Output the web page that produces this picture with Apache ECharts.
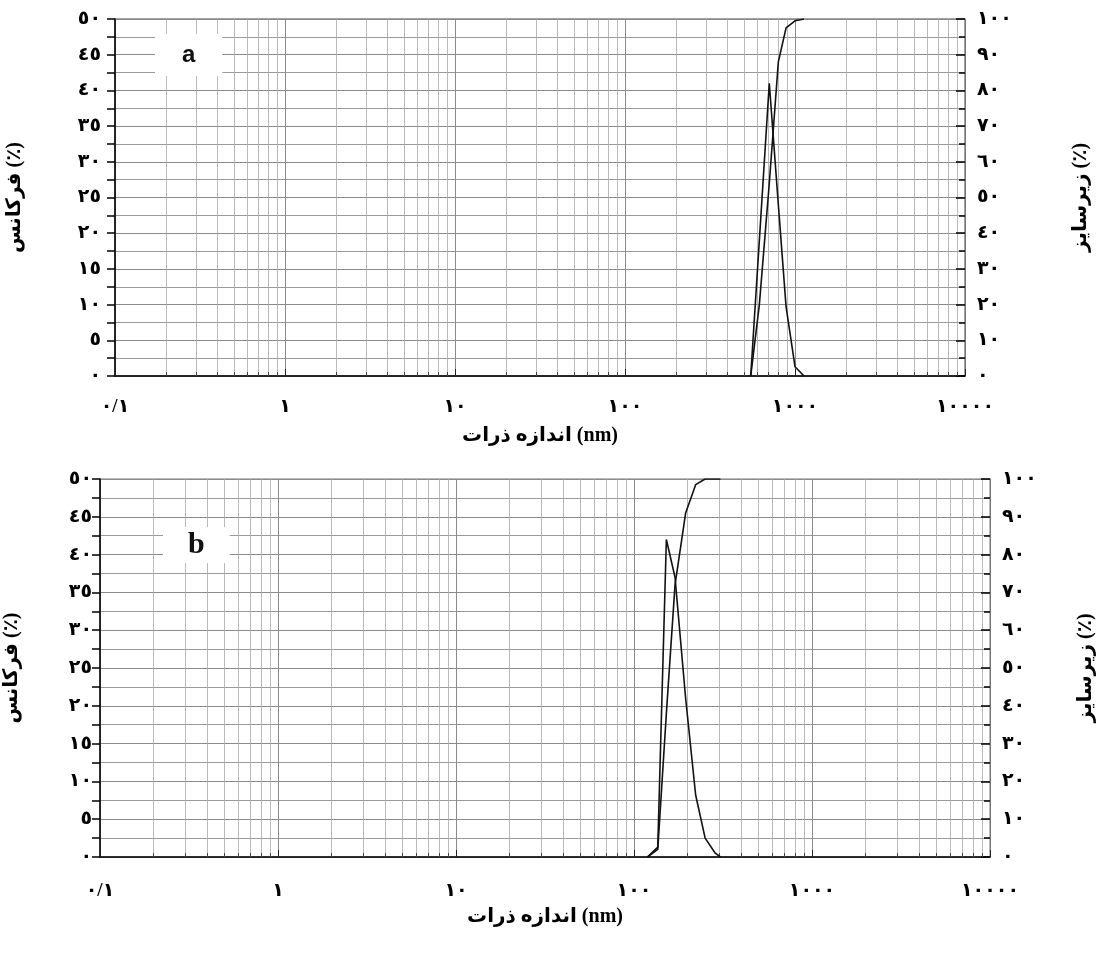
<!DOCTYPE html>
<html lang="fa">
<head>
<meta charset="UTF-8">
<title>توزیع اندازه ذرات</title>
<style>
  html, body { margin: 0; padding: 0; background: #fff; }
  #chart { width: 1102px; height: 961px; }
</style>
</head>
<body>
<div id="chart"></div>
<script src="https://cdn.jsdelivr.net/npm/echarts@6.0.0/dist/echarts.min.js"></script>
<script>
// نمونه a - اندازه (nm)، فرکانس و زیرسایز تجمعی
var sizesA = [549, 617, 706, 798, 886, 1000, 1130];
var freqA  = [0, 19, 41, 24, 9.7, 1.3, 0];
var cumA   = [0, 20, 54, 88, 97.5, 99.5, 100];

// نمونه b
var sizesB = [119, 136, 152, 170, 195, 222, 251, 286, 306];
var freqB  = [0, 1.3, 42, 37, 21, 8.2, 2.5, 0.5, 0];
var cumB   = [0, 2, 38, 72, 91, 98.5, 100, 100, 100];

var xTickLabels = ['٠/١', '١', '١٠', '١٠٠', '١٠٠٠', '١٠٠٠٠'];
var xName = 'اندازه ذرات (nm)';
var leftName = 'فرکانس (٪)';
var rightName = 'زیرسایز (٪)';

var faDigits = ['٠', '١', '٢', '٣', '٤', '٥', '٦', '٧', '٨', '٩'];
function fa(n) {
  return String(n).replace(/\d/g, function (d) { return faDigits[d]; });
}
function pairs(xs, ys) {
  return xs.map(function (x, i) { return [x, ys[i]]; });
}

var font = "'Liberation Serif', 'DejaVu Sans', serif";
var boldText = { fontFamily: font, fontWeight: 'bold', fontSize: 20, color: '#000' };

function xAxisCfg(gridIndex, labelMargin, nameGap) {
  return {
    type: 'log', gridIndex: gridIndex, logBase: 10, min: 0.1, max: 10000,
    name: xName, nameLocation: 'middle', nameGap: nameGap,
    nameTextStyle: boldText,
    axisLine: { show: true, onZero: false, lineStyle: { color: '#000', width: 1.5 } },
    axisTick: { show: true, inside: true, length: 7, lineStyle: { color: '#222' } },
    minorTick: { show: true, splitNumber: 9, length: 4, lineStyle: { color: '#444' } },
    axisLabel: {
      margin: labelMargin, fontFamily: font, fontWeight: 'bold', fontSize: 19, color: '#000',
      formatter: function (v) { return xTickLabels[Math.round(Math.log10(v)) + 1]; }
    },
    splitLine: { show: true, lineStyle: { color: '#8a8a8a', width: 1 } },
    minorSplitLine: { show: true, lineStyle: { color: '#a8a8a8', width: 0.8 } }
  };
}

function leftYCfg(gridIndex, nameGap, labelMargin) {
  return {
    type: 'value', gridIndex: gridIndex, position: 'left', min: 0, max: 50, interval: 5,
    name: leftName, nameLocation: 'middle', nameGap: nameGap, nameRotate: 90,
    nameTextStyle: boldText,
    axisLine: { show: true, lineStyle: { color: '#000', width: 1.5 } },
    axisTick: { show: true, length: 8, lineStyle: { color: '#000', width: 1.5 } },
    minorTick: { show: true, splitNumber: 2, length: 8, lineStyle: { color: '#000', width: 1.5 } },
    axisLabel: {
      margin: labelMargin, fontFamily: font, fontWeight: 'bold', fontSize: 19, color: '#000',
      formatter: function (v) { return fa(v); }
    },
    splitLine: { show: true, lineStyle: { color: '#8a8a8a', width: 1 } },
    minorSplitLine: { show: true, lineStyle: { color: '#9a9a9a', width: 1 } }
  };
}

function rightYCfg(gridIndex, nameGap) {
  return {
    type: 'value', gridIndex: gridIndex, position: 'right', min: 0, max: 100, interval: 10,
    name: rightName, nameLocation: 'middle', nameGap: nameGap, nameRotate: 90,
    nameTextStyle: boldText,
    axisLine: { show: true, lineStyle: { color: '#777', width: 1 } },
    axisTick: { show: true, inside: true, length: 9, lineStyle: { color: '#000', width: 1.5 } },
    minorTick: { show: true, splitNumber: 2, length: 6, lineStyle: { color: '#000', width: 1.5 } },
    axisLabel: {
      margin: 12, fontFamily: font, fontWeight: 'bold', fontSize: 19, color: '#000',
      formatter: function (v) { return fa(v); }
    },
    splitLine: { show: false }
  };
}

function lineSeries(xi, yi, data) {
  return {
    type: 'line', xAxisIndex: xi, yAxisIndex: yi, data: data,
    showSymbol: false, symbol: 'none', smooth: false,
    lineStyle: { color: '#111', width: 1.6 }, z: 5
  };
}

var chart = echarts.init(document.getElementById('chart'), null, { renderer: 'canvas' });

var option = {
  backgroundColor: '#fff',
  animation: false,
  title: [
    {
      text: 'a', left: 155, top: 34,
      backgroundColor: '#fff', padding: [9, 27],
      textStyle: { fontFamily: "'Liberation Sans', Arial, sans-serif", fontWeight: 'bold', fontSize: 24, color: '#111' }
    },
    {
      text: 'b', left: 163, top: 527,
      backgroundColor: '#fff', padding: [3, 25],
      textStyle: { fontFamily: "'Liberation Serif', serif", fontWeight: 'bold', fontSize: 30, color: '#111' }
    }
  ],
  grid: [
    { left: 115, right: 137, top: 19, height: 357, show: true, borderColor: '#444', borderWidth: 1, outerBoundsMode: 'none' },
    { left: 100, right: 112, top: 479, height: 378, show: true, borderColor: '#777', borderWidth: 1, outerBoundsMode: 'none' }
  ],
  xAxis: [
    xAxisCfg(0, 22, 50),
    xAxisCfg(1, 25, 50)
  ],
  yAxis: [
    leftYCfg(0, 90, 14),
    rightYCfg(0, 106),
    leftYCfg(1, 78, 8),
    rightYCfg(1, 86)
  ],
  series: [
    lineSeries(0, 0, pairs(sizesA, freqA)),
    lineSeries(0, 1, pairs(sizesA, cumA)),
    lineSeries(1, 2, pairs(sizesB, freqB)),
    lineSeries(1, 3, pairs(sizesB, cumB))
  ]
};

chart.setOption(option);
</script>
</body>
</html>
